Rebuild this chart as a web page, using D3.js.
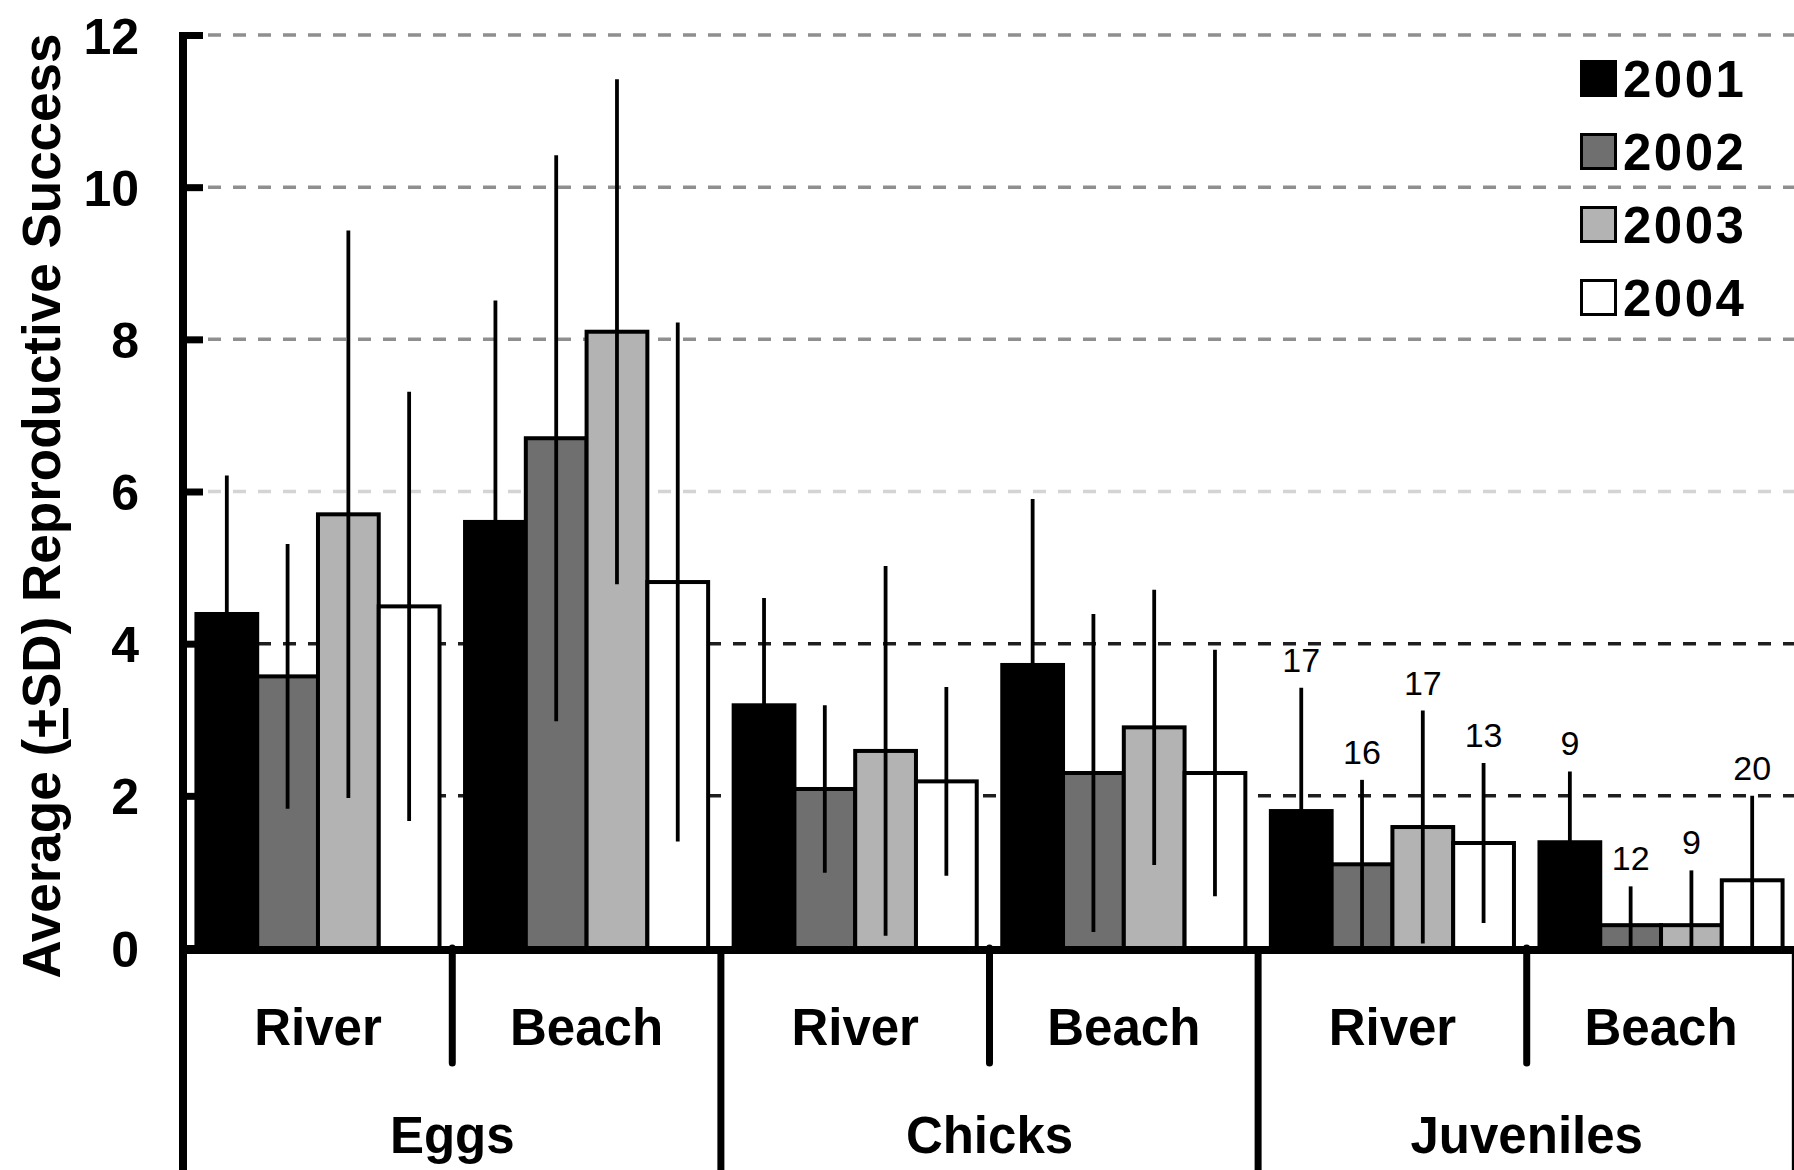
<!DOCTYPE html>
<html><head><meta charset="utf-8">
<script src="https://cdn.jsdelivr.net/npm/d3@7/dist/d3.min.js"></script>
<style>body{margin:0;background:#fff}svg{display:block}</style>
</head><body>
<svg id="chart" width="1794" height="1170"></svg>
<script>
// ---------- data ----------
const years = ['2001', '2002', '2003', '2004'];
const stages = ['Eggs', 'Chicks', 'Juveniles'];
const habitats = ['River', 'Beach'];
const yTicks = [0, 2, 4, 6, 8, 10, 12];

// order of groups: Eggs-River, Eggs-Beach, Chicks-River, Chicks-Beach, Juveniles-River, Juveniles-Beach
const mean2001 = [4.39, 5.60, 3.19, 3.72, 1.80, 1.39];
const mean2002 = [3.57, 6.70, 2.09, 2.30, 1.10, 0.30];
const mean2003 = [5.70, 8.10, 2.59, 2.90, 1.59, 0.30];
const mean2004 = [4.49, 4.81, 2.19, 2.30, 1.38, 0.89];

const sd2001 = [1.82, 2.91, 1.41, 2.18, 1.62, 0.93];
const sd2002 = [1.74, 3.72, 1.10, 2.09, 1.11, 0.51];
const sd2003 = [3.73, 3.32, 2.43, 1.81, 1.53, 0.72];
const sd2004 = [2.82, 3.41, 1.24, 1.62, 1.05, 1.11];

const nJuvenileRiver = [17, 16, 17, 13];
const nJuvenileBeach = [9, 12, 9, 20];

// ---------- setup ----------
const W = 1794, H = 1170;
const FONT = "'Liberation Sans', Arial, Helvetica, sans-serif";
const fills = ['#000000', '#6f6f6f', '#b3b3b3', '#ffffff'];
const gridColor = {2: '#1e1e1e', 4: '#1e1e1e', 6: '#d4d4d4', 8: '#8f8f8f', 10: '#8f8f8f', 12: '#8f8f8f'};

const groups = stages.flatMap(s => habitats.map(h => s + '|' + h));
const means = [mean2001, mean2002, mean2003, mean2004];
const sds = [sd2001, sd2002, sd2003, sd2004];
const nLabels = {'Juveniles|River': nJuvenileRiver, 'Juveniles|Beach': nJuvenileBeach};

const svg = d3.select('#chart').style('font-family', FONT);

const axisX = 183;
const y = d3.scaleLinear().domain([0, 12]).range([948, 35]);
const x0 = d3.scaleBand().domain(groups).range([axisX, 1796]).paddingInner(0.095).paddingOuter(0.05);
const x1 = d3.scaleBand().domain(years).range([0, x0.bandwidth()]);
const halfGap = x0.step() * x0.paddingInner() / 2;

// ---------- gridlines ----------
svg.append('g').selectAll('line')
  .data(yTicks.filter(t => t > 0))
  .join('line')
  .attr('x1', axisX + 25).attr('x2', W)
  .attr('y1', d => y(d)).attr('y2', d => y(d))
  .attr('stroke', d => gridColor[d])
  .attr('stroke-width', 3.5)
  .attr('stroke-dasharray', '13 12');

// ---------- bars ----------
const barData = [];
groups.forEach((g, gi) => {
  years.forEach((yr, yi) => {
    barData.push({g, yr, yi, m: means[yi][gi], sd: sds[yi][gi]});
  });
});

svg.append('g').selectAll('rect')
  .data(barData)
  .join('rect')
  .attr('x', d => x0(d.g) + x1(d.yr))
  .attr('width', x1.bandwidth())
  .attr('y', d => y(d.m))
  .attr('height', d => y(0) - y(d.m))
  .attr('fill', d => fills[d.yi])
  .attr('stroke', '#000')
  .attr('stroke-width', 4);

// ---------- error bars ----------
svg.append('g').selectAll('line')
  .data(barData)
  .join('line')
  .attr('x1', d => x0(d.g) + x1(d.yr) + x1.bandwidth() / 2)
  .attr('x2', d => x0(d.g) + x1(d.yr) + x1.bandwidth() / 2)
  .attr('y1', d => y(d.m + d.sd))
  .attr('y2', d => y(Math.max(0, d.m - d.sd)))
  .attr('stroke', '#000')
  .attr('stroke-width', 3.8);

// ---------- sample size labels ----------
const nData = barData.filter(d => nLabels[d.g]).map(d => ({...d, n: nLabels[d.g][d.yi]}));
svg.append('g').selectAll('text')
  .data(nData)
  .join('text')
  .attr('x', d => x0(d.g) + x1(d.yr) + x1.bandwidth() / 2)
  .attr('y', d => y(d.m + d.sd) - 16)
  .attr('text-anchor', 'middle')
  .attr('font-size', 34)
  .attr('fill', '#000')
  .text(d => d.n);

// ---------- y axis ----------
const yAxis = d3.axisLeft(y).tickValues(yTicks).tickSize(-20).tickSizeOuter(0).tickPadding(44);
const gy = svg.append('g').attr('transform', `translate(${axisX},0)`).call(yAxis);
gy.select('.domain').remove();
gy.selectAll('.tick line').attr('stroke', '#000').attr('stroke-width', 7);
gy.selectAll('.tick text')
  .attr('font-family', FONT).attr('font-size', 50).attr('font-weight', 'bold')
  .attr('fill', '#000').attr('dy', '0.36em');

svg.append('line')
  .attr('x1', axisX).attr('x2', axisX)
  .attr('y1', y(12) - 3).attr('y2', H)
  .attr('stroke', '#000').attr('stroke-width', 8);

// baseline
svg.append('line')
  .attr('x1', axisX).attr('x2', W)
  .attr('y1', y(0) + 2).attr('y2', y(0) + 2)
  .attr('stroke', '#000').attr('stroke-width', 8);

// ---------- category separators ----------
// minor (between habitats)
svg.append('g').selectAll('line')
  .data(stages)
  .join('line')
  .attr('x1', s => x0(s + '|Beach') - halfGap)
  .attr('x2', s => x0(s + '|Beach') - halfGap)
  .attr('y1', y(0)).attr('y2', 1063)
  .attr('stroke', '#000').attr('stroke-width', 7).attr('stroke-linecap', 'round');
// major (between stages, and right end)
const majorX = stages.slice(1).map(s => x0(s + '|River') - halfGap)
  .concat([x0(groups[groups.length - 1]) + x0.bandwidth() + halfGap]);
svg.append('g').selectAll('line')
  .data(majorX)
  .join('line')
  .attr('x1', d => d).attr('x2', d => d)
  .attr('y1', y(0)).attr('y2', H)
  .attr('stroke', '#000').attr('stroke-width', 7);

// ---------- category labels ----------
svg.append('g').selectAll('text')
  .data(groups)
  .join('text')
  .attr('x', g => x0(g) + x0.bandwidth() / 2)
  .attr('y', 1045)
  .attr('text-anchor', 'middle')
  .attr('font-size', 51).attr('font-weight', 'bold')
  .text(g => g.split('|')[1]);

svg.append('g').selectAll('text')
  .data(stages)
  .join('text')
  .attr('x', s => (x0(s + '|River') + x0(s + '|Beach') + x0.bandwidth()) / 2)
  .attr('y', 1153)
  .attr('text-anchor', 'middle')
  .attr('font-size', 51).attr('font-weight', 'bold')
  .text(s => s);

// ---------- y title ----------
const title = svg.append('text')
  .attr('transform', 'translate(60,506) rotate(-90)')
  .attr('text-anchor', 'middle')
  .attr('font-size', 53).attr('font-weight', 'bold');
title.append('tspan').text('Average (');
title.append('tspan').style('text-decoration', 'underline').text('+');
title.append('tspan').text('SD) Reproductive Success');

// ---------- legend ----------
const legend = svg.append('g').selectAll('g')
  .data(years)
  .join('g')
  .attr('transform', (d, i) => `translate(1580,${60 + i * 73})`);
legend.append('rect')
  .attr('x', 1.5).attr('y', 1.5)
  .attr('width', 34).attr('height', 34)
  .attr('fill', (d, i) => fills[i])
  .attr('stroke', '#000').attr('stroke-width', 3);
legend.append('text')
  .attr('x', 43).attr('y', 18.5)
  .attr('dy', '0.36em')
  .attr('font-size', 51).attr('font-weight', 'bold')
  .attr('letter-spacing', 2.5)
  .text(d => d);
</script>
</body></html>
